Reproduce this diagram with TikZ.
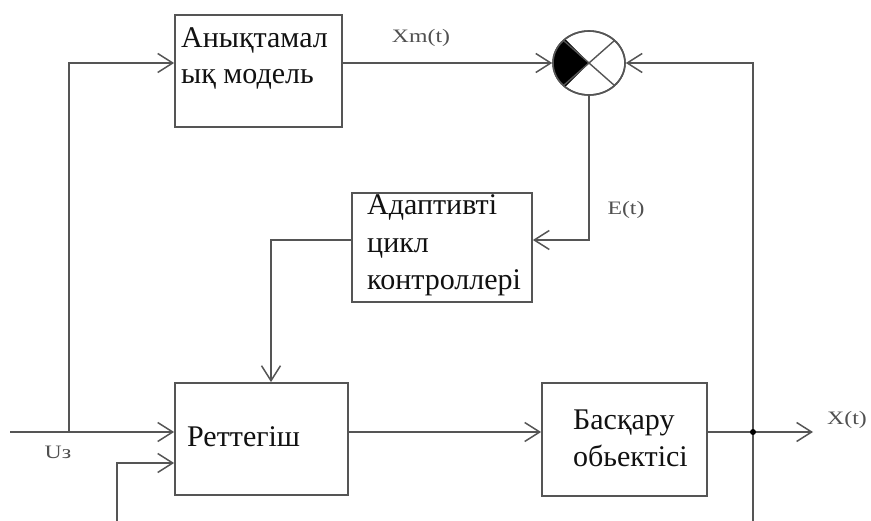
\documentclass[tikz,border=0pt]{standalone}
\usepackage{fontspec}
\setmainfont{Liberation Serif}
\newfontfamily\lblfont[FakeStretch=1.25]{Liberation Serif}
\usetikzlibrary{arrows.meta,shapes.geometric}
\definecolor{ln}{HTML}{555555}
\definecolor{lbl}{HTML}{505050}
\definecolor{txt}{HTML}{111111}
\begin{document}
\begin{tikzpicture}[x=1pt,y=-1pt,
  block/.style={draw=ln, line width=1.8pt, fill=white, inner sep=0pt},
  wire/.style={draw=ln, line width=1.6pt},
  flow/.style={wire, -{Straight Barb[length=15pt,width=19pt,line width=1.5pt]}},
  boxtext/.style={anchor=base west, inner sep=0pt, text=txt,
                  font=\fontsize{30}{36}\selectfont},
  sig/.style={inner sep=0pt, text=lbl, font=\lblfont\fontsize{19}{22}\selectfont}]
\useasboundingbox (0,0) rectangle (871,521);

% blocks
\node[block, minimum width=167pt, minimum height=112pt] (M) at (258.5,71) {};
\node[block, minimum width=180pt, minimum height=109pt] (A) at (442,247.5) {};
\node[block, minimum width=173pt, minimum height=112pt] (R) at (261.5,439) {};
\node[block, minimum width=165pt, minimum height=113pt] (B) at (624.5,439.5) {};

% block texts
\node[boxtext] (m1) at (181,48) {Анықтамал};
\node[boxtext] (m2) at (181,84) {ық модель};
\node[boxtext] (a1) at (367,215) {Адаптивті};
\node[boxtext] (a2) at (367,253) {цикл};
\node[boxtext] (a3) at (367,290) {контроллері};
\node[boxtext] (r1) at (187,447) {Реттегіш};
\node[boxtext] (b1) at (573,430) {Басқару};
\node[boxtext] (b2) at (573,467) {обьектісі};

% comparator
\node[draw=ln, line width=1.6pt, ellipse, minimum width=72pt, minimum height=64pt,
      inner sep=0pt] (sum) at (589,63) {};
\begin{scope}
  \clip (sum.center) ellipse[x radius=36pt, y radius=32pt];
  \fill[black] (sum.center) -- ++(-60pt,60pt) -- ++(0pt,-120pt) -- cycle;
  \draw[ln, line width=1.4pt] (sum.center) -- ++(-60pt,53pt)
        (sum.center) -- ++(-60pt,-53pt)
        (sum.center) -- ++(60pt,53pt)
        (sum.center) -- ++(60pt,-53pt);
\end{scope}
\draw[ln, line width=1.6pt] (sum) ellipse[x radius=36pt, y radius=32pt];

% signal points
\coordinate (uin) at (10,432);
\coordinate (ubr) at (69,432);
\coordinate (u2) at (117,521);
\coordinate (u2k) at (117,463);
\coordinate (tap) at (753,432);
\coordinate (fbend) at (753,521);
\coordinate (out) at (813,432);
\coordinate (ey) at (589,240);
\coordinate (ax) at (271,240);

% connectors
\draw[flow] (uin) -- (uin -| R.west);
\draw[flow] (ubr) |- (M.west |- sum);
\draw[flow] (M.east |- sum) -- (sum.west);
\draw[flow] (u2) -- (u2k) -- (u2k -| R.west);
\draw[flow] (sum.south) -- (ey) -- (ey -| A.east);
\draw[flow] (ey -| A.west) -- (ax) -- (ax |- R.north);
\draw[flow] (uin -| R.east) -- (uin -| B.west);
\draw[flow] (tap -| B.east) -- (out);
\draw[wire] (fbend) -- (tap);
\draw[flow] (tap) |- (sum.east);
\fill[black] (tap) circle[radius=3pt];

% signal labels
\node[sig] (xm) at (421,38) {Xm(t)};
\node[sig] (et) at (626,210) {E(t)};
\node[sig] (xt) at (847,420) {X(t)};
\node[sig] (uz) at (58,452) {Uз};
\end{tikzpicture}
\end{document}
